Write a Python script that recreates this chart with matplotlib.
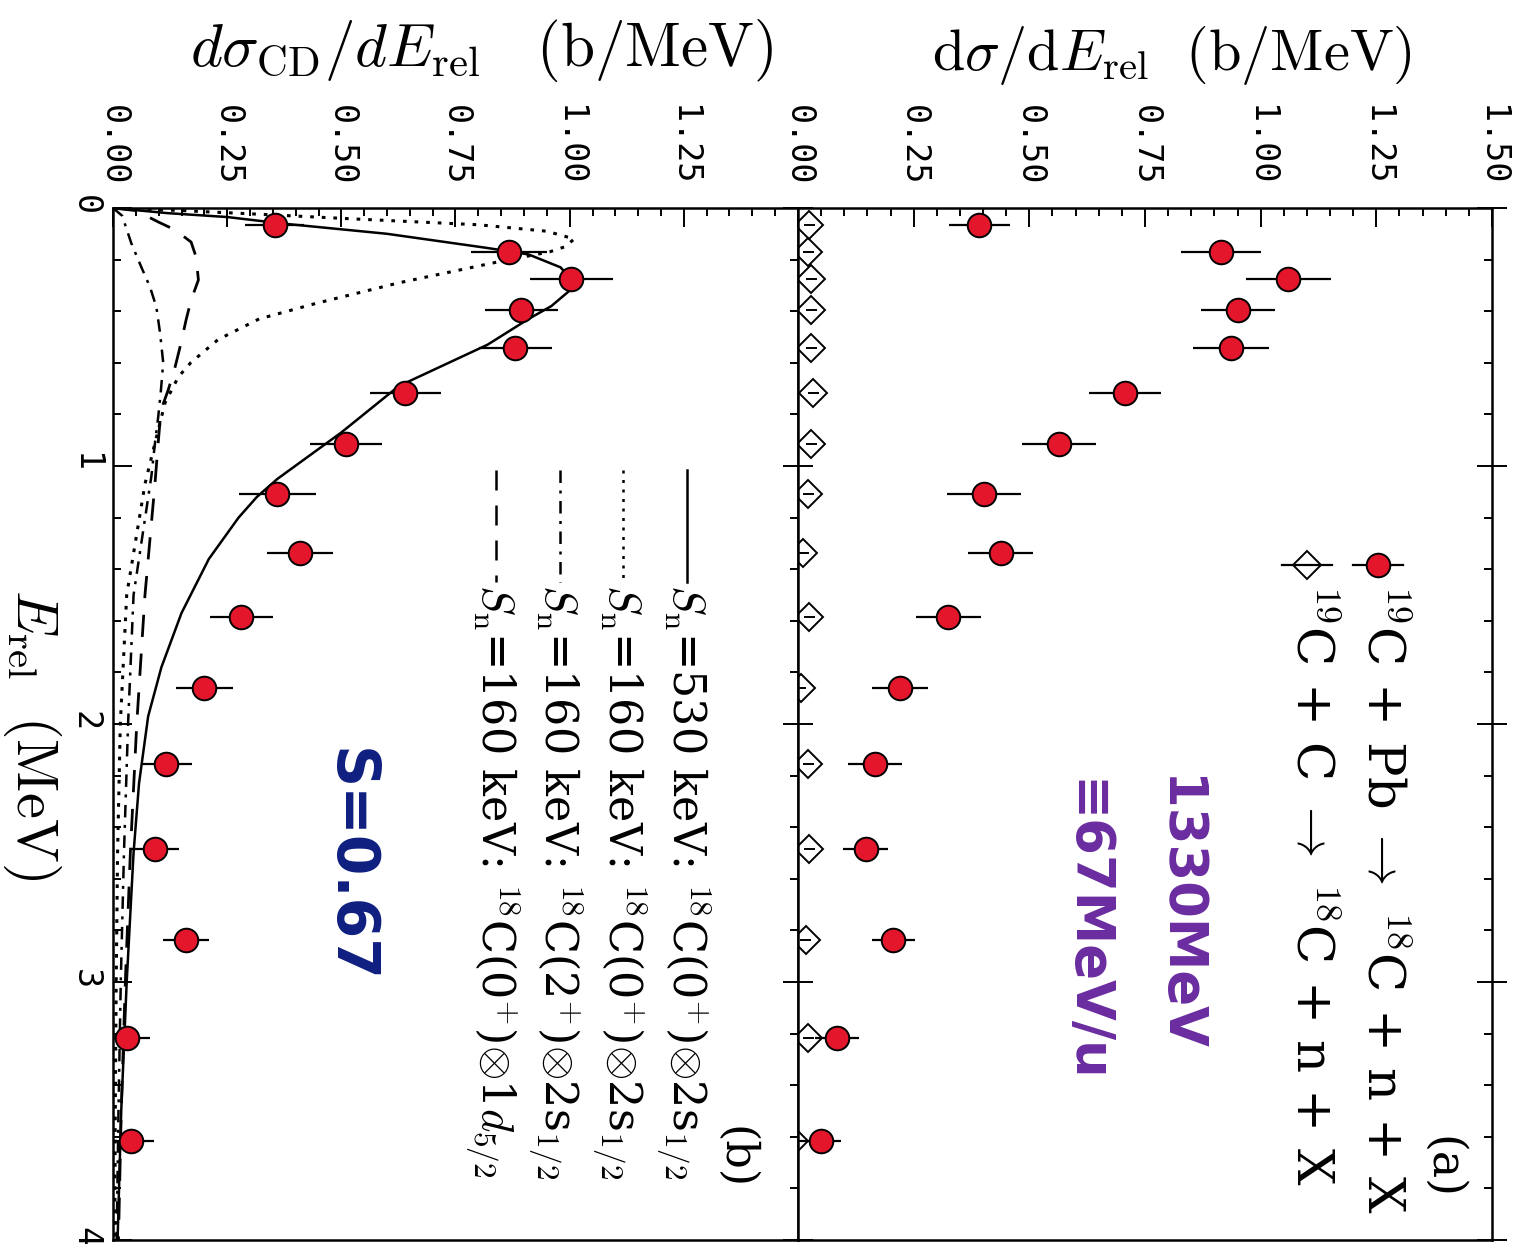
import numpy as np
import matplotlib
matplotlib.use("Agg")
import matplotlib.pyplot as plt
from matplotlib.ticker import MultipleLocator

plt.rcParams["mathtext.fontset"] = "cm"
plt.rcParams["font.family"] = ["DejaVu Serif"]

# bin centres (MeV), same for both panels
E = [0.064, 0.171, 0.275, 0.395, 0.543, 0.717, 0.915, 1.109, 1.337, 1.585,
     1.86, 2.155, 2.485, 2.837, 3.217, 3.616]

# (a) 19C + Pb and 19C + C
a_pb = [0.392, 0.914, 1.06, 0.951, 0.936, 0.706, 0.564, 0.403, 0.438, 0.325,
        0.221, 0.166, 0.146, 0.206, 0.084, 0.049]
a_pb_err = [0.066, 0.086, 0.092, 0.08, 0.083, 0.078, 0.08, 0.08, 0.07, 0.07,
            0.06, 0.058, 0.048, 0.046, 0.048, 0.045]
a_c = [0.024, 0.022, 0.029, 0.029, 0.029, 0.033, 0.029, 0.022, 0.011, 0.024,
       0.006, 0.022, 0.024, 0.017, 0.022, -0.008]
a_c_err = [0.012] * 16

# (b) Coulomb dissociation
b_cd = [0.354, 0.868, 1.004, 0.894, 0.881, 0.64, 0.51, 0.36, 0.41, 0.281,
        0.2, 0.117, 0.092, 0.16, 0.031, 0.039]
b_cd_err = [0.065, 0.083, 0.091, 0.08, 0.08, 0.078, 0.079, 0.085, 0.072, 0.069,
            0.062, 0.056, 0.053, 0.051, 0.05, 0.05]

# calculated curves
e_530 = [0, 0.02, 0.035, 0.06, 0.1, 0.155, 0.18, 0.23, 0.27, 0.32, 0.38, 0.43,
         0.53, 0.69, 0.87, 0.96, 1.05, 1.12, 1.2, 1.36, 1.57, 1.78, 1.97, 2.23,
         2.5, 3.0, 3.5, 4.0]
v_530 = [0, 0.12, 0.25, 0.37, 0.6, 0.82, 0.91, 0.98, 1.0, 1.0, 0.96, 0.91,
         0.82, 0.626, 0.50, 0.43, 0.36, 0.315, 0.275, 0.21, 0.15, 0.106, 0.077,
         0.057, 0.045, 0.03, 0.018, 0.01]

e_160s = [0, 0.01, 0.025, 0.04, 0.065, 0.09, 0.12, 0.15, 0.17, 0.21, 0.29,
          0.37, 0.43, 0.51, 0.6, 0.655, 0.755, 0.91, 1.07, 1.5, 2.0, 2.5, 3.0,
          3.5, 4.0]
v_160s = [0, 0.15, 0.33, 0.5, 0.8, 0.95, 1.01, 0.99, 0.956, 0.84, 0.626,
          0.444, 0.32, 0.23, 0.17, 0.143, 0.114, 0.092, 0.07, 0.03, 0.016,
          0.01, 0.007, 0.005, 0.004]

e_160x = [0, 0.03, 0.136, 0.229, 0.306, 0.384, 0.484, 0.6, 0.705, 0.81, 0.91,
          1.04, 1.5, 2.0, 2.5, 3.0, 3.5, 4.0]
v_160x = [0, 0.02, 0.04, 0.062, 0.081, 0.095, 0.103, 0.11, 0.105, 0.099,
          0.092, 0.084, 0.045, 0.033, 0.024, 0.017, 0.012, 0.008]

e_160d = [0, 0.01, 0.054, 0.085, 0.132, 0.19, 0.279, 0.357, 0.434, 0.523,
          0.616, 0.705, 0.783, 0.91, 1.066, 1.5, 2.0, 2.5, 3.0, 3.5, 4.0]
v_160d = [0, 0.05, 0.099, 0.136, 0.171, 0.182, 0.187, 0.171, 0.16, 0.149,
          0.136, 0.121, 0.105, 0.099, 0.092, 0.07, 0.052, 0.038, 0.027, 0.018,
          0.012]

W, H = 1524, 1244
fig = plt.figure(figsize=(W / 100, H / 100), dpi=100)
top, bot = 208, 1240
axb = fig.add_axes([113 / W, 1 - bot / H, (798 - 113) / W, (bot - top) / H])
axa = fig.add_axes([798 / W, 1 - bot / H, (1492 - 798) / W, (bot - top) / H])

red = "#e3162b"
tickfont = {"family": "DejaVu Sans Mono", "size": 24}

for ax in (axb, axa):
    ax.set_xlim(0, 1.5)
    ax.set_ylim(4, 0)
    ax.xaxis.set_major_locator(MultipleLocator(0.25))
    ax.xaxis.set_minor_locator(MultipleLocator(0.05))
    ax.yaxis.set_major_locator(MultipleLocator(1))
    ax.yaxis.set_minor_locator(MultipleLocator(0.2))
    for s in ax.spines.values():
        s.set_linewidth(1.8)
    ax.tick_params(which="both", direction="in", top=True, bottom=False,
                   left=True, right=True, labeltop=True, labelbottom=False,
                   width=1.4)
    ax.tick_params(which="major", length=14)
    ax.tick_params(which="minor", length=6)
    ax.tick_params(axis="x", pad=16)
    ax.set_xticks([0, 0.25, 0.5, 0.75, 1.0, 1.25, 1.5])
    ax.set_xticklabels(["0.00", "0.25", "0.50", "0.75", "1.00", "1.25", "1.50"],
                       rotation=-90, fontdict=tickfont)

axb.set_xticklabels(["0.00", "0.25", "0.50", "0.75", "1.00", "1.25", ""],
                    rotation=-90, fontdict=tickfont)
axb.set_yticks([0, 1, 2, 3, 4])
axb.set_yticklabels(["0", "1", "2", "3", "4"], rotation=-90, fontdict=tickfont)
axb.tick_params(axis="y", pad=8)
axb.tick_params(axis="y", which="major", right=False)
axa.tick_params(axis="y", labelleft=False)
axa.tick_params(axis="y", which="major", direction="inout", length=22)
axa.tick_params(axis="y", which="minor", left=False)

# panel (b)
axb.plot(v_530, e_530, color="k", lw=1.8)
axb.plot(v_160s, e_160s, color="k", lw=2.2, ls=(0, (1.2, 2.6)))
axb.plot(v_160x, e_160x, color="k", lw=1.8, ls=(0, (5, 3, 1.2, 3)))
axb.plot(v_160d, e_160d, color="k", lw=2.0, ls=(0, (8, 6)))
axb.errorbar(b_cd, E, xerr=b_cd_err, fmt="o", ms=17, mfc=red, mec="k",
             mew=1.4, ecolor="k", elinewidth=1.6, capsize=0, zorder=5)

leg_b = [
    ("-", r"$S_{\rm n}$=530 keV: $^{18}$C(0$^{+}$)$\otimes$2s$_{1/2}$"),
    ((0, (1.2, 2.6)), r"$S_{\rm n}$=160 keV: $^{18}$C(0$^{+}$)$\otimes$2s$_{1/2}$"),
    ((0, (5, 3, 1.2, 3)), r"$S_{\rm n}$=160 keV: $^{18}$C(2$^{+}$)$\otimes$2s$_{1/2}$"),
    ((0, (8, 6)), r"$S_{\rm n}$=160 keV: $^{18}$C(0$^{+}$)$\otimes$1$d_{5/2}$"),
]
for i, (ls, lab) in enumerate(leg_b):
    xs = 0.838 - i * 0.093
    axb.plot([xs, xs], [0.746, 0.638], transform=axb.transAxes, color="k",
             lw=1.8, ls=ls)
    axb.text(xs - 0.006, 0.636, lab, transform=axb.transAxes, rotation=-90,
             ha="center", va="top", fontsize=32)
axb.text(0.908, 0.08, "(b)", transform=axb.transAxes, rotation=-90,
         ha="center", va="center", fontsize=32)
axb.text(0.345, 0.363, "S=0.67", transform=axb.transAxes, rotation=-90,
         ha="center", va="center", fontsize=42, fontweight="bold",
         color="#0f1f80", family="DejaVu Sans")

# panel (a)
axa.errorbar(a_c, E, xerr=a_c_err, fmt="D", ms=14, mfc="none", mec="k",
             mew=1.4, ecolor="k", elinewidth=1.4, capsize=0, zorder=4)
axa.errorbar(a_pb, E, xerr=a_pb_err, fmt="o", ms=17, mfc=red, mec="k",
             mew=1.4, ecolor="k", elinewidth=1.6, capsize=0, zorder=5)

for xs, mk, fc, lab in [(0.836, "o", red, r"$^{19}$C + Pb $\rightarrow$ $^{18}$C + n + X"),
                        (0.733, "D", "none", r"$^{19}$C + C $\rightarrow$ $^{18}$C + n + X")]:
    axa.plot([xs - 0.036, xs + 0.036], [0.654, 0.654], transform=axa.transAxes,
             color="k", lw=1.6)
    axa.plot([xs], [0.654], transform=axa.transAxes, marker=mk,
             ms=17 if mk == "o" else 14, mfc=fc, mec="k", mew=1.4)
    axa.text(xs + 0.004, 0.636, lab, transform=axa.transAxes, rotation=-90,
             ha="center", va="top", fontsize=37)
axa.text(0.929, 0.07, "(a)", transform=axa.transAxes, rotation=-90,
         ha="center", va="center", fontsize=33)
axa.text(0.548, 0.316, "1330MeV", transform=axa.transAxes, rotation=-90,
         ha="center", va="center", fontsize=38, fontweight="bold",
         color="#6a2ca0", family="DejaVu Sans")
axa.text(0.4135, 0.30, "\u226167MeV/u", transform=axa.transAxes, rotation=-90,
         ha="center", va="center", fontsize=38, fontweight="bold",
         color="#6a2ca0", family="DejaVu Sans")

# axis titles
fig.text(482 / W, 1 - 50 / H,
         r"$d\sigma_{\rm CD}/dE_{\rm rel}\ \ \ (\mathrm{b/MeV})$",
         ha="center", va="center", fontsize=44)
fig.text(1172 / W, 1 - 55 / H,
         r"$\mathrm{d}\sigma/\mathrm{d}E_{\rm rel}\ \ (\mathrm{b/MeV})$",
         ha="center", va="center", fontsize=42)
fig.text(32 / W, 1 - 735 / H, r"$E_{\rm rel}\ \ (\mathrm{MeV})$", rotation=-90,
         ha="center", va="center", fontsize=42)

fig.savefig("out.png", dpi=100)
